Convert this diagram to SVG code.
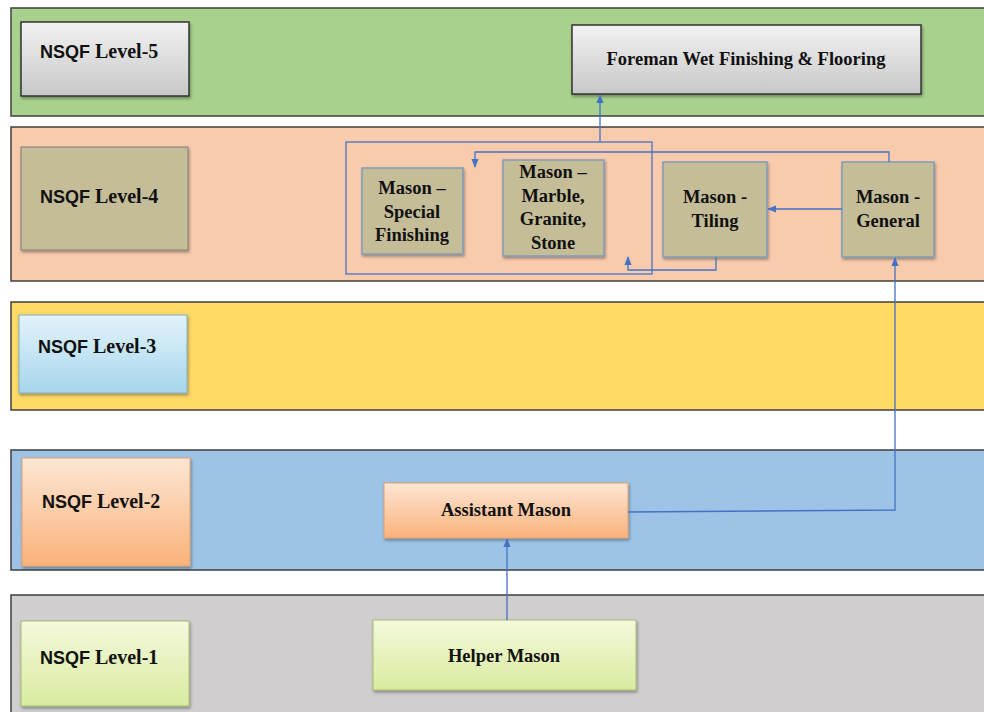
<svg xmlns="http://www.w3.org/2000/svg" width="984" height="712" viewBox="0 0 984 712">
<defs>
<linearGradient id="gGray" x1="0" y1="0" x2="0" y2="1"><stop offset="0" stop-color="#f2f2f2"/><stop offset="1" stop-color="#c8c8c8"/></linearGradient>
<linearGradient id="gBlue" x1="0" y1="0" x2="0" y2="1"><stop offset="0" stop-color="#e3f3fb"/><stop offset="1" stop-color="#a6d6ec"/></linearGradient>
<linearGradient id="gPeach" x1="0" y1="0" x2="0" y2="1"><stop offset="0" stop-color="#fde6d4"/><stop offset="1" stop-color="#fab27a"/></linearGradient>
<linearGradient id="gLime" x1="0" y1="0" x2="0" y2="1"><stop offset="0" stop-color="#f4f9dc"/><stop offset="1" stop-color="#d9eb9f"/></linearGradient>
<filter id="sh" x="-10%" y="-10%" width="125%" height="130%"><feDropShadow dx="1" dy="2" stdDeviation="1.5" flood-color="#000" flood-opacity="0.35"/></filter>
<marker id="arr" viewBox="0 0 10 10" refX="9" refY="5" markerWidth="7" markerHeight="7" orient="auto"><path d="M0,1 L10,5 L0,9 z" fill="#4472c4"/></marker>
</defs>
<style>
.band{stroke:#3f3f3f;stroke-width:1.5}
.lbl{filter:url(#sh)}
.lt{font-family:"Liberation Serif","Times New Roman",serif;font-weight:bold;font-size:20px;fill:#111}
.ns{font-family:"Liberation Sans",Arial,sans-serif;font-weight:bold;font-size:18px}
.nt{font-family:"Liberation Serif","Times New Roman",serif;font-weight:bold;font-size:18.5px;fill:#111;text-anchor:middle}
.mason{fill:#c4bd97;stroke:#7f9db9;stroke-width:1.5;filter:url(#sh)}
.conn{fill:none;stroke:#4472c4;stroke-width:1.3}
</style>
<rect width="984" height="712" fill="#ffffff"/>
<g id="bands">
<rect class="band" x="11" y="8" width="980" height="108" fill="#a9d18e"/>
<rect class="band" x="11" y="127" width="980" height="154" fill="#f8cbad"/>
<rect class="band" x="11" y="302" width="980" height="108" fill="#ffd966"/>
<rect class="band" x="11" y="450" width="980" height="120" fill="#9dc3e6"/>
<rect class="band" x="11" y="595" width="980" height="125" fill="#d0cece"/>
</g>
<g id="level5"><rect class="lbl" x="21" y="22" width="168" height="74" fill="url(#gGray)" stroke="#333" stroke-width="1.5"/><text class="lt" x="40" y="58"><tspan class="ns">NSQF</tspan> Level-5</text></g>
<g id="level4"><rect class="lbl" x="21" y="147" width="167" height="103" fill="#c4bd97" stroke="#7f7f7f" stroke-width="1"/><text class="lt" x="40" y="203"><tspan class="ns">NSQF</tspan> Level-4</text></g>
<g id="level3"><rect class="lbl" x="19" y="315" width="168" height="78" fill="url(#gBlue)" stroke="#7fb0c8" stroke-width="1"/><text class="lt" x="38" y="353"><tspan class="ns">NSQF</tspan> Level-3</text></g>
<g id="level2"><rect class="lbl" x="22" y="458" width="168" height="108" fill="url(#gPeach)" stroke="#e0a070" stroke-width="1"/><text class="lt" x="42" y="508"><tspan class="ns">NSQF</tspan> Level-2</text></g>
<g id="level1"><rect class="lbl" x="21" y="621" width="168" height="85" fill="url(#gLime)" stroke="#a8bb70" stroke-width="1"/><text class="lt" x="40" y="664"><tspan class="ns">NSQF</tspan> Level-1</text></g>
<g id="foreman"><rect class="lbl" x="572" y="25" width="349" height="69" fill="url(#gGray)" stroke="#333" stroke-width="1.5"/><text class="nt" x="746" y="65">Foreman Wet Finishing &amp; Flooring</text></g>
<g id="group4"><rect x="346" y="142" width="306" height="132" fill="none" stroke="#4472c4" stroke-width="1.3"/></g>
<g id="special"><rect class="mason" x="362" y="168" width="101" height="86"/><text class="nt" x="412" y="194">Mason –<tspan x="412" dy="23.5">Special</tspan><tspan x="412" dy="23.5">Finishing</tspan></text></g>
<g id="marble"><rect class="mason" x="503" y="160" width="101" height="96"/><text class="nt" x="553" y="178">Mason –<tspan x="553" dy="23.5">Marble,</tspan><tspan x="553" dy="23.5">Granite,</tspan><tspan x="553" dy="23.5">Stone</tspan></text></g>
<g id="tiling"><rect class="mason" x="663" y="162" width="104" height="95"/><text class="nt" x="715" y="203">Mason -<tspan x="715" dy="24">Tiling</tspan></text></g>
<g id="general"><rect class="mason" x="842" y="162" width="92" height="95"/><text class="nt" x="888" y="203">Mason -<tspan x="888" dy="24">General</tspan></text></g>
<g id="assistant"><rect class="lbl" x="384" y="483" width="244" height="55" fill="url(#gPeach)" stroke="#e0a070" stroke-width="1"/><text class="nt" x="506" y="516">Assistant Mason</text></g>
<g id="helper"><rect class="lbl" x="373" y="620" width="263" height="70" fill="url(#gLime)" stroke="#a8bb70" stroke-width="1"/><text class="nt" x="504" y="662">Helper Mason</text></g>
<g id="connectors">
<path class="conn" d="M600,142 V95" marker-end="url(#arr)"/>
<path class="conn" d="M889,162 V152 H475 V167" marker-end="url(#arr)"/>
<path class="conn" d="M842,209 H768" marker-end="url(#arr)"/>
<path class="conn" d="M716,257 V270 H628 V257" marker-end="url(#arr)"/>
<path class="conn" d="M628,512 L895,510 V258" marker-end="url(#arr)"/>
<path class="conn" d="M507,620 V539" marker-end="url(#arr)"/>
</g>
</svg>
